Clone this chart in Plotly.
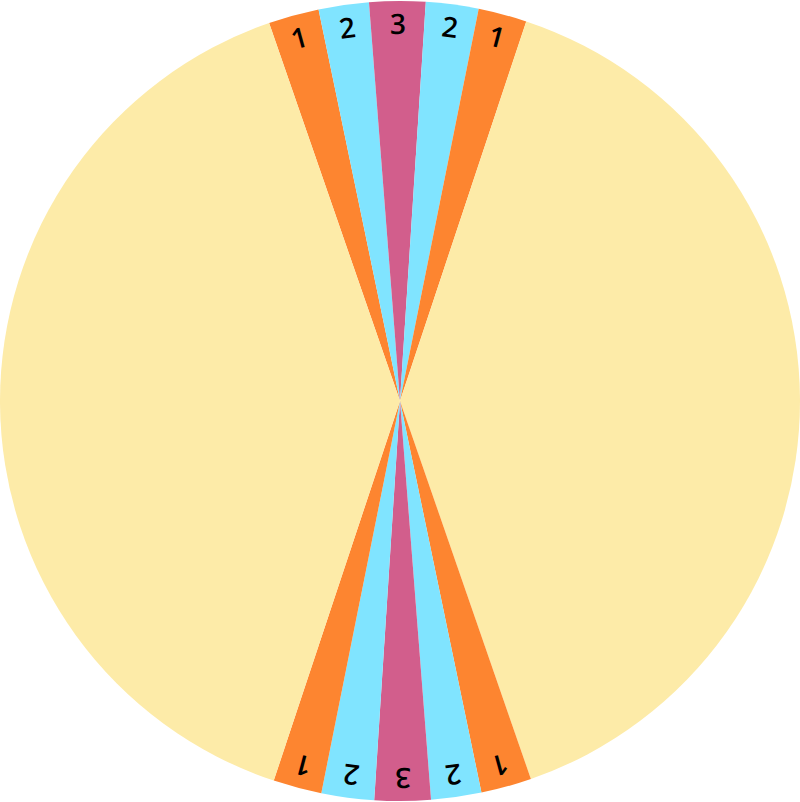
import math
import plotly.graph_objects as go

labels = ["1", "2", "3", "2", "1", "", "1", "2", "3", "2", "1", ""]
values = [7.35, 7.3, 8.15, 7.65, 7.05, 142.5, 7.35, 7.3, 8.15, 7.65, 7.05, 142.5]
colors = ["#FD8530", "#80E4FF", "#D25E8C", "#80E4FF", "#FD8530", "#FDEBA8",
          "#FD8530", "#80E4FF", "#D25E8C", "#80E4FF", "#FD8530", "#FDEBA8"]

W, H = 800, 802
ROTATION = -19.1
LABEL_R = 0.945  # fraction of pie radius

fig = go.Figure(go.Pie(
    values=values,
    sort=False,
    direction="clockwise",
    rotation=ROTATION,
    marker=dict(colors=colors, line=dict(width=0)),
    textinfo="none",
    hoverinfo="none",
))

# tangential labels (text rotated with the slice angle, also upside-down at the bottom)
total = sum(values)
radius_px = min(W, H) / 2
cum = 0.0
annotations = []
for lab, v in zip(labels, values):
    mid = ROTATION + (cum + v / 2) / total * 360.0
    cum += v
    if not lab:
        continue
    th = math.radians(mid)
    x = 0.5 + LABEL_R * radius_px * math.sin(th) / W
    y = 0.5 + LABEL_R * radius_px * math.cos(th) / H
    ang = ((mid + 180) % 360) - 180
    annotations.append(dict(
        x=x, y=y, xref="paper", yref="paper", text=lab, showarrow=False,
        textangle=ang, xanchor="center", yanchor="middle",
        font=dict(family="Open Sans", size=28, color="black", weight=600),
    ))

fig.update_layout(width=W, height=H, margin=dict(l=0, r=0, t=0, b=0),
                  showlegend=False, paper_bgcolor="white",
                  annotations=annotations)
fig.write_html("out.html", config={"displayModeBar": False},
               post_script="document.body.style.margin='0';document.body.style.overflow='hidden';")
